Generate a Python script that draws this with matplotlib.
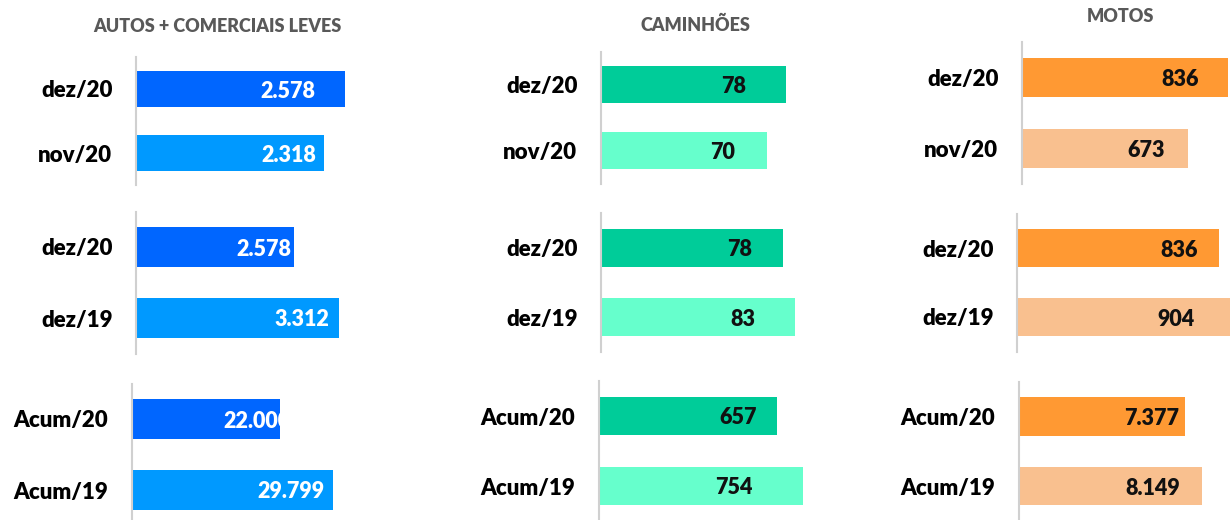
import matplotlib.pyplot as plt

plt.rcParams['font.family'] = ['Lato', 'DejaVu Sans']

titulos = ["AUTOS + COMERCIAIS LEVES", "CAMINHÕES", "MOTOS"]
periodos = [["dez/20", "nov/20"],
            ["dez/20", "dez/19"],
            ["Acum/20", "Acum/19"]]
autos = [[2578, 2318], [2578, 3312], [22000, 29799]]
caminhoes = [[78, 70], [78, 83], [657, 754]]
motos = [[836, 673], [836, 904], [7377, 8149]]
series = [autos, caminhoes, motos]

# Cores (barra de cima, barra de baixo) e cor do rótulo
cores = [("#0066FF", "#0099FF"), ("#00CC99", "#66FFCC"), ("#FF9933", "#F9C08F")]
cor_texto = ["white", "#111111", "#111111"]

# Layout em pixels: (esquerda, topo, altura) de cada painel, e escala do eixo x
W = 230
layout = [
    [(136, 57, 128), (136, 211.5, 142), (132, 383.5, 142)],
    [(601, 51.5, 132), (601, 213, 139), (599, 381, 140)],
    [(1022, 42, 142), (1017, 213.5, 138), (1019, 381.75, 139)],
]
xmax = [[2840, 3760, 34100], [97, 98.5, 849], [933, 952, 10245]]
# distância (px) do fim da barra até o fim do rótulo
recuo = [[(29, 7), (2, 9), (-10, 8)],
         [(40, 32), (31, 39), (20, 51)],
         [(29, 23), (21, 41), (5, 22)]]
pos_titulo = [(217, 27), (695, 25), (1120, 16)]

FW, FH = 1230, 520
fig = plt.figure(figsize=(FW / 100, FH / 100), dpi=100)


def fmt(v):
    return f"{v:,}".replace(",", ".")


for c in range(3):
    x, y = pos_titulo[c]
    fig.text(x / FW, 1 - y / FH, titulos[c], ha='center', va='center',
             fontsize=13, fontweight='heavy', color='#595959')
    for r in range(3):
        left, top, h = layout[c][r]
        ax = fig.add_axes([left / FW, 1 - (top + h) / FH, W / FW, h / FH])
        vals = series[c][r]
        ypos = [1, 0]
        bars = ax.barh(ypos, vals, height=0.55, color=cores[c])
        ax.set_xlim(0, xmax[c][r])
        ax.set_ylim(-0.5, 1.5)
        ax.set_yticks(ypos)
        ax.set_yticklabels(periodos[r], fontsize=16, fontweight='heavy')
        ax.tick_params(axis='y', length=0, pad=17)
        ax.set_xticks([])
        for s in ['top', 'right', 'bottom']:
            ax.spines[s].set_visible(False)
        ax.spines['left'].set_color('#D0D0D0')
        ax.spines['left'].set_linewidth(1.5)
        for i, (b, v) in enumerate(zip(bars, vals)):
            t = ax.annotate(fmt(v), xy=(v, ypos[i]), xytext=(-recuo[c][r][i], -2),
                            textcoords='offset pixels', ha='right', va='center',
                            fontsize=15.5, fontweight='heavy', color=cor_texto[c])
            t.set_clip_path(b)
            t.set_clip_on(True)

fig.savefig("out.png", dpi=100)
